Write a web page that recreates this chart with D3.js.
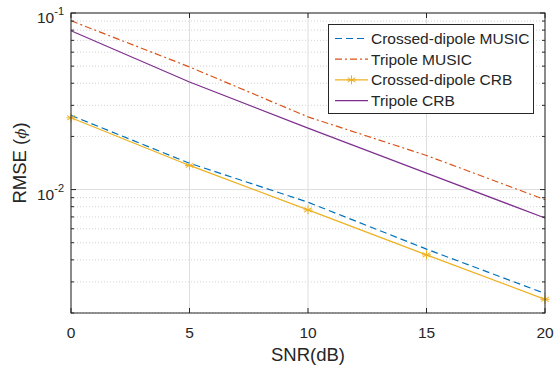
<!DOCTYPE html>
<html>
<head>
<meta charset="utf-8">
<script src="https://cdn.jsdelivr.net/npm/d3@7"></script>
<style>
  body { margin: 0; background: #fff; }
  svg text { font-family: "Liberation Sans", Arial, sans-serif; fill: #262626; }
</style>
</head>
<body>
<div id="chart"></div>
<script>
// SNR values (dB)
var snr = [0, 5, 10, 15, 20];

// RMSE series
var crossedMusic = [0.0263, 0.0141, 0.00848, 0.0046, 0.00258];
var tripoleMusic = [0.0904, 0.0495, 0.0258, 0.0156, 0.00877];
var crossedCrb = [0.0255, 0.0137, 0.00767, 0.00427, 0.00239];
var tripoleCrb = [0.0794, 0.0407, 0.0223, 0.0124, 0.0069];

var seriesNames = ['Crossed-dipole MUSIC', 'Tripole MUSIC', 'Crossed-dipole CRB', 'Tripole CRB'];
var seriesValues = [crossedMusic, tripoleMusic, crossedCrb, tripoleCrb];

var xTicks = [0, 5, 10, 15, 20];
var yMajor = [0.01, 0.1];
var yMinor = [0.002, 0.003, 0.004, 0.005, 0.006, 0.007, 0.008, 0.009, 0.02, 0.03, 0.04, 0.05, 0.06, 0.07, 0.08, 0.09];

var width = 555, height = 373;
var margin = {left: 71, right: 10, top: 13, bottom: 60};

var styles = [
    {color: '#0072BD', dash: '7,4', marker: false},
    {color: '#D95319', dash: '7,3,2,3', marker: false},
    {color: '#EDB120', dash: null, marker: true},
    {color: '#7E2F8E', dash: null, marker: false}
];

var svg = d3.select('#chart').append('svg').attr('width', width).attr('height', height);

var x = d3.scaleLinear().domain([0, 20]).range([margin.left, width - margin.right]);
var y = d3.scaleLog().domain([0.002, 0.1]).range([height - margin.bottom, margin.top]);

var x0 = x.range()[0], x1 = x.range()[1];
var y0 = y.range()[0], y1 = y.range()[1];

// grid
var grid = svg.append('g');
grid.selectAll('line.ym').data(yMinor).enter().append('line')
    .attr('x1', x0).attr('x2', x1)
    .attr('y1', function(d) { return y(d); }).attr('y2', function(d) { return y(d); })
    .attr('stroke', '#d4d4d4').attr('stroke-width', 1).attr('stroke-dasharray', '1,2');
grid.selectAll('line.yM').data(yMajor).enter().append('line')
    .attr('x1', x0).attr('x2', x1)
    .attr('y1', function(d) { return y(d); }).attr('y2', function(d) { return y(d); })
    .attr('stroke', '#dedede').attr('stroke-width', 1);
grid.selectAll('line.x').data(xTicks).enter().append('line')
    .attr('x1', function(d) { return x(d); }).attr('x2', function(d) { return x(d); })
    .attr('y1', y0).attr('y2', y1)
    .attr('stroke', '#dedede').attr('stroke-width', 1);

// data lines
var line = d3.line().x(function(d, i) { return x(snr[i]); }).y(function(d) { return y(d); });
var plot = svg.append('g');
seriesValues.forEach(function(vals, k) {
    var st = styles[k];
    plot.append('path').datum(vals).attr('d', line)
        .attr('fill', 'none').attr('stroke', st.color).attr('stroke-width', 1.2)
        .attr('stroke-dasharray', st.dash);
});

function star(g, cx, cy, color) {
    var r = 4.5;
    [0, 60, 120].forEach(function(a) {
        var rad = a * Math.PI / 180;
        g.append('line')
            .attr('x1', cx - r * Math.sin(rad)).attr('y1', cy - r * Math.cos(rad))
            .attr('x2', cx + r * Math.sin(rad)).attr('y2', cy + r * Math.cos(rad))
            .attr('stroke', color).attr('stroke-width', 1);
    });
    g.append('line').attr('x1', cx - r).attr('x2', cx + r).attr('y1', cy).attr('y2', cy)
        .attr('stroke', color).attr('stroke-width', 1);
}
crossedCrb.forEach(function(v, i) { star(plot, x(snr[i]), y(v), styles[2].color); });

// axes box and ticks
var axisColor = '#262626';
var ax = svg.append('g');
ax.append('rect').attr('x', x0).attr('y', y1).attr('width', x1 - x0).attr('height', y0 - y1)
    .attr('fill', 'none').attr('stroke', axisColor).attr('stroke-width', 1);

xTicks.forEach(function(t) {
    ax.append('line').attr('x1', x(t)).attr('x2', x(t)).attr('y1', y0).attr('y2', y0 - 5).attr('stroke', axisColor);
    ax.append('line').attr('x1', x(t)).attr('x2', x(t)).attr('y1', y1).attr('y2', y1 + 5).attr('stroke', axisColor);
});
yMajor.forEach(function(t) {
    ax.append('line').attr('x1', x0).attr('x2', x0 + 5).attr('y1', y(t)).attr('y2', y(t)).attr('stroke', axisColor);
    ax.append('line').attr('x1', x1).attr('x2', x1 - 5).attr('y1', y(t)).attr('y2', y(t)).attr('stroke', axisColor);
});
yMinor.forEach(function(t) {
    ax.append('line').attr('x1', x0).attr('x2', x0 + 3).attr('y1', y(t)).attr('y2', y(t)).attr('stroke', axisColor);
    ax.append('line').attr('x1', x1).attr('x2', x1 - 3).attr('y1', y(t)).attr('y2', y(t)).attr('stroke', axisColor);
});

// tick labels
ax.selectAll('text.xt').data(xTicks).enter().append('text')
    .attr('x', function(d) { return x(d); }).attr('y', y0 + 24.5)
    .attr('text-anchor', 'middle').style('font-size', '15.5px')
    .text(function(d) { return d; });

ax.selectAll('text.yt').data(yMajor).enter().append('text')
    .attr('x', x0 - 7).attr('y', function(d) { return y(d) + 10; })
    .attr('text-anchor', 'end').style('font-size', '15.5px')
    .each(function(d) {
        var t = d3.select(this);
        t.append('tspan').text('10');
        t.append('tspan').attr('dy', -8).style('font-size', '11px').text(Math.round(Math.log10(d)));
    });

// axis titles
svg.append('text').attr('x', (x0 + x1) / 2).attr('y', 361)
    .attr('text-anchor', 'middle').style('font-size', '18.5px').text('SNR(dB)');

var yl = svg.append('text').attr('transform', 'translate(25.5,' + ((y0 + y1) / 2) + ') rotate(-90)')
    .attr('text-anchor', 'middle').style('font-size', '18.5px');
yl.append('tspan').text('RMSE (');
yl.append('tspan').style('font-style', 'italic').style('font-family', '"DejaVu Serif", serif').style('font-size', '15px').text('\u03D5');
yl.append('tspan').text(')');

// legend
var lg = svg.append('g');
lg.append('rect').attr('x', 328.5).attr('y', 24.5).attr('width', 205).attr('height', 89)
    .attr('fill', '#fff').attr('stroke', axisColor).attr('stroke-width', 1);
seriesNames.forEach(function(name, k) {
    var ly = 38.5 + k * 20.7;
    var st = styles[k];
    lg.append('line').attr('x1', 335).attr('x2', 368).attr('y1', ly).attr('y2', ly)
        .attr('stroke', st.color).attr('stroke-width', 1.2).attr('stroke-dasharray', st.dash);
    if (st.marker) star(lg, 351.5, ly, st.color);
    lg.append('text').attr('x', 371).attr('y', ly + 5.5).style('font-size', '15.5px').text(name);
});
</script>
</body>
</html>
